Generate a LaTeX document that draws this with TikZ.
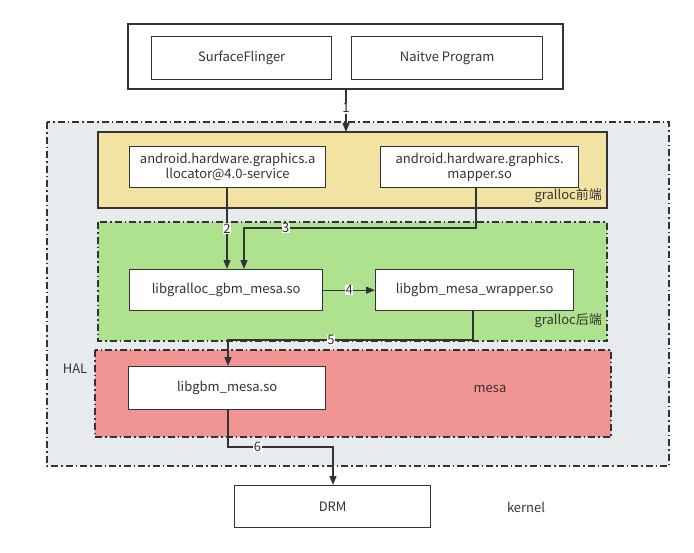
\documentclass[tikz,border=0pt]{standalone}
\usepackage{fontspec}
\setmainfont{Noto Sans CJK SC}
\usetikzlibrary{arrows.meta}
\definecolor{lineC}{HTML}{333333}
\definecolor{halC}{HTML}{E8EBEE}
\definecolor{yelC}{HTML}{F2E3A2}
\definecolor{grnC}{HTML}{AEE28E}
\definecolor{pinkC}{HTML}{F09494}
\tikzset{
  box/.style={draw=lineC, line width=1.3pt, fill=white, inner sep=0pt, anchor=north west, align=center, font=\fontsize{13}{16}\selectfont},
  grp/.style={draw=lineC, line width=1.3pt},
  dashgrp/.style={draw=lineC, line width=1.3pt, dash pattern=on 7pt off 3pt on 1.5pt off 3pt},
  conn/.style={draw=lineC, line width=1.3pt, -{Triangle[length=9pt,width=7pt]}},
  lab/.style={fill=white, inner sep=0.6pt, font=\fontsize{13}{15}\selectfont, text=lineC},
  txt/.style={font=\fontsize{13}{16}\selectfont, text=lineC, inner sep=0pt},
}
\begin{document}
\begin{tikzpicture}[x=1pt,y=-1pt]
\useasboundingbox (0,0) rectangle (694,552);
% groups
\fill[halC] (47,122) rectangle (669,466);
\draw[dashgrp] (47,122) rectangle (669,466);
\draw[grp, fill=white] (128,24) rectangle (563,89);
\draw[grp, fill=yelC] (98,132) rectangle (607,208);
\fill[grnC] (98,222) rectangle (607,341);
\draw[dashgrp] (98,222) rectangle (607,341);
\fill[pinkC] (95,350) rectangle (611,437);
\draw[dashgrp] (95,350) rectangle (611,437);
% nodes
\node[box, minimum width=180pt, minimum height=43pt] (sf) at (151,36) {\textcolor{lineC}{SurfaceFlinger}};
\node[box, minimum width=191pt, minimum height=43pt] (np) at (351,36) {\textcolor{lineC}{Naitve Program}};
\node[box, minimum width=196pt, minimum height=41pt] (alloc) at (129,146) {\textcolor{lineC}{android.hardware.graphics.a}\\[-1pt]\textcolor{lineC}{llocator@4.0-service}};
\node[box, minimum width=198pt, minimum height=41pt] (mapper) at (380,146) {\textcolor{lineC}{android.hardware.graphics.}\\[-1pt]\textcolor{lineC}{mapper.so}};
\node[box, minimum width=193pt, minimum height=41pt] (gralloc) at (129,269) {\textcolor{lineC}{libgralloc\_gbm\_mesa.so}};
\node[box, minimum width=198pt, minimum height=41pt] (wrapper) at (375,269) {\textcolor{lineC}{libgbm\_mesa\_wrapper.so}};
\node[box, minimum width=197pt, minimum height=43pt] (gbm) at (128,366) {\textcolor{lineC}{libgbm\_mesa.so}};
\node[box, minimum width=196pt, minimum height=42pt] (drm) at (234,485) {\textcolor{lineC}{DRM}};
% coordinates
\coordinate (topb) at (346,89);
\coordinate (yelt) at (346,132);
% texts
\node[txt, anchor=south east] (gf) at (602,203) {gralloc前端};
\node[txt, anchor=south east] (gb) at (602,328) {gralloc后端};
\node[txt] (mesa) at (490,389) {mesa};
\node[txt] (hal) at (75,369) {HAL};
\node[txt] (kern) at (526,507) {kernel};
% connectors
\draw[conn] (topb) -- node[lab, pos=0.45] {1} (yelt);
\draw[conn] (alloc.south -| 227,0) -- node[lab, pos=0.5] {2} (gralloc.north -| 227,0);
\draw[conn] (mapper.south -| 476,0) |- node[lab, pos=0.91] {3} (244,228) -- (gralloc.north -| 244,0);
\draw[conn] (gralloc.east) -- node[lab] {4} (wrapper.west);
\draw[conn] (wrapper.south -| 473,0) |- node[lab, pos=0.79] {5} (228,340) -- (gbm.north -| 228,0);
\draw[conn] (gbm.south -| 228,0) |- node[lab, pos=0.64] {6} (333,447) -- (drm.north -| 333,0);
\end{tikzpicture}
\end{document}
